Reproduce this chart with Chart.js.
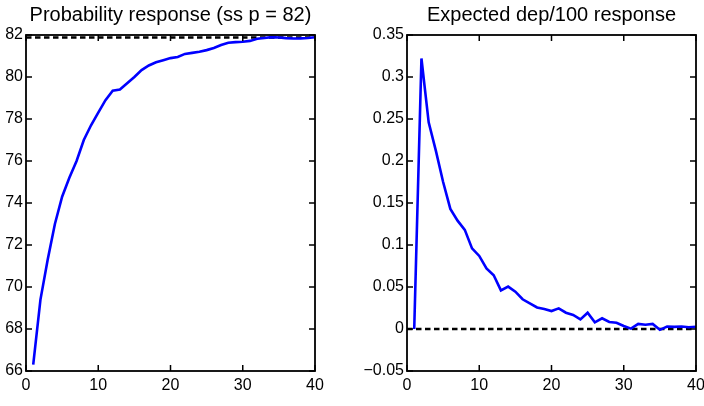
<!DOCTYPE html>
<html>
<head>
<meta charset="utf-8">
<script src="https://cdn.jsdelivr.net/npm/chart.js@4.4.1/dist/chart.umd.min.js"></script>
<style>
  body { margin: 0; background: #fff; }
  #wrap { position: relative; width: 704px; height: 406px; overflow: hidden; }
  .panel { position: absolute; top: 0; height: 406px; }
</style>
</head>
<body>
<div id="wrap">
  <div class="panel" style="left:0; width:341px"><canvas id="izq"></canvas></div>
  <div class="panel" style="left:352px; width:399px"><canvas id="der"></canvas></div>
</div>
<script>
// periodos 1..40
const periodos = Array.from({ length: 40 }, (_, i) => i + 1)

// respuesta de la probabilidad
const probRespuesta = [
  66.3, 69.4, 71.3, 73.0, 74.3, 75.2, 76.0, 77.0, 77.7, 78.3,
  78.9, 79.35, 79.4, 79.7, 80.0, 80.33, 80.55, 80.7, 80.8, 80.9,
  80.95, 81.1, 81.15, 81.2, 81.28, 81.38, 81.52, 81.63, 81.66, 81.68,
  81.72, 81.82, 81.86, 81.9, 81.88, 81.85, 81.83, 81.84, 81.86, 81.89
]
const probEstacionario = 81.88

// respuesta de dep/100 esperado
const depRespuesta = [
  0.0, 0.322, 0.246, 0.212, 0.175, 0.143, 0.129, 0.118, 0.096, 0.087,
  0.072, 0.064, 0.046, 0.0505, 0.0445, 0.0354, 0.0306, 0.0256, 0.0238, 0.0214,
  0.0246, 0.0194, 0.0167, 0.0115, 0.0194, 0.008, 0.0127, 0.0083, 0.0075, 0.0036,
  0.0004, 0.006, 0.005, 0.006, -0.001, 0.003, 0.0025, 0.003, 0.002, 0.0025
]
const depEstacionario = 0

const ticksX = [0, 10, 20, 30, 40]
const ticksIzq = [66, 68, 70, 72, 74, 76, 78, 80, 82]
const ticksDer = [-0.05, 0, 0.05, 0.1, 0.15, 0.2, 0.25, 0.3, 0.35]

const fuente = 'Liberation Sans, Arial, sans-serif'

// marco y marcas hacia adentro, estilo matplotlib
const marcoPlugin = {
  id: 'marco',
  afterDraw(chart) {
    const { ctx, chartArea: a, scales } = chart
    const largo = 6
    ctx.save()
    ctx.strokeStyle = '#000'
    ctx.lineWidth = 1.5
    ctx.beginPath()
    scales.x.ticks.forEach(t => {
      const px = scales.x.getPixelForValue(t.value)
      ctx.moveTo(px, a.bottom); ctx.lineTo(px, a.bottom - largo)
      ctx.moveTo(px, a.top); ctx.lineTo(px, a.top + largo)
    })
    scales.y.ticks.forEach(t => {
      const py = scales.y.getPixelForValue(t.value)
      ctx.moveTo(a.left, py); ctx.lineTo(a.left + largo, py)
      ctx.moveTo(a.right, py); ctx.lineTo(a.right - largo, py)
    })
    ctx.stroke()
    ctx.lineWidth = 1.8
    ctx.strokeRect(a.left, a.top, a.right - a.left, a.bottom - a.top)
    ctx.restore()
  }
}

// el eje derecho vacio deja el area centrada bajo el titulo
const crearGrafico = (id, titulo, valores, estacionario, ticksY, min, max, anchoY, formato) => {
  return new Chart(document.getElementById(id), {
    type: 'line',
    data: {
      datasets: [
        {
          data: periodos.map((p, i) => ({ x: p, y: valores[i] })),
          borderColor: '#0000ff',
          borderWidth: 2.6,
          pointRadius: 0,
          tension: 0
        },
        {
          data: [{ x: 0, y: estacionario }, { x: 40, y: estacionario }],
          borderColor: '#000',
          borderWidth: 2.4,
          borderDash: [5.5, 3.5],
          pointRadius: 0
        }
      ]
    },
    options: {
      responsive: false,
      animation: false,
      devicePixelRatio: 1,
      layout: { padding: 0 },
      plugins: {
        legend: { display: false },
        tooltip: { enabled: false },
        title: {
          display: true,
          text: titulo,
          color: '#000',
          font: { family: fuente, size: 20, weight: 'normal' },
          padding: { top: 3, bottom: 8 }
        }
      },
      scales: {
        x: {
          type: 'linear',
          min: 0,
          max: 40,
          grid: { display: false, drawTicks: false },
          border: { display: false },
          afterBuildTicks: s => { s.ticks = ticksX.map(v => ({ value: v })) },
          afterFit: s => { s.height = 35 },
          ticks: {
            color: '#000',
            padding: 5,
            maxRotation: 0,
            font: { family: fuente, size: 16 },
            callback: v => String(v)
          }
        },
        y: {
          min: min,
          max: max,
          grid: { display: false, drawTicks: false },
          border: { display: false },
          afterBuildTicks: s => { s.ticks = ticksY.map(v => ({ value: v })) },
          afterFit: s => { s.width = anchoY },
          ticks: {
            color: '#000',
            padding: 3,
            font: { family: fuente, size: 16 },
            callback: formato
          }
        },
        y2: {
          position: 'right',
          min: min,
          max: max,
          grid: { display: false, drawTicks: false },
          border: { display: false },
          ticks: { display: false },
          afterFit: s => { s.width = anchoY }
        }
      }
    },
    plugins: [marcoPlugin]
  })
}

document.getElementById('izq').width = 341
document.getElementById('izq').height = 406
document.getElementById('der').width = 399
document.getElementById('der').height = 406

crearGrafico('izq', 'Probability response (ss p = 82)', probRespuesta, probEstacionario,
  ticksIzq, 66, 82, 26, v => String(v))

crearGrafico('der', 'Expected dep/100 response', depRespuesta, depEstacionario,
  ticksDer, -0.05, 0.35, 55, v => (v < 0 ? '\u2212' + String(-v) : String(Math.round(v * 100) / 100)))
</script>
</body>
</html>
